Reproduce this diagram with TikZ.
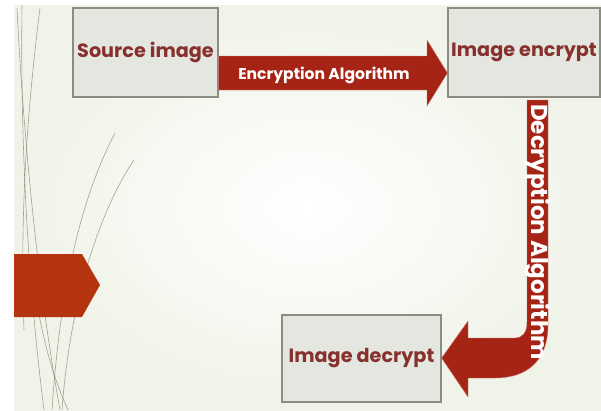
\documentclass[tikz,border=0pt]{standalone}
\usepackage{fontspec}
\setmainfont{Poppins}
\usetikzlibrary{positioning}
\definecolor{slidebg}{RGB}{240,243,232}
\definecolor{boxfill}{RGB}{228,231,223}
\definecolor{boxline}{RGB}{140,140,128}
\definecolor{arrowred}{RGB}{166,36,22}
\definecolor{hexred}{RGB}{180,52,14}
\definecolor{labelred}{RGB}{135,48,46}
\definecolor{stemgrey}{RGB}{128,130,110}
\begin{document}
\begin{tikzpicture}[
  x=1pt, y=-1pt,
  imgbox/.style = {draw=boxline, line width=1.2pt, fill=boxfill,
    text=labelred, inner sep=0pt,
    font=\bfseries\fontsize{19.2}{19.2}\selectfont},
  flowlabel/.style = {text=white, inner sep=0pt,
    font=\bfseries\fontsize{15.6}{15.6}\selectfont},
  stem/.style = {draw=stemgrey, line width=0.6pt, opacity=0.7},
  blockarrow/.style = {fill=arrowred, draw=arrowred!60!white, line width=0.4pt}]
  \useasboundingbox (0,0) rectangle (601,410);
  \fill[white] (0,0) rectangle (601,410);
  \shade[inner color=white, outer color=slidebg] (14,5) rectangle (601,410);
  \draw[stem] (17,8) .. controls (24,150) and (40,300) .. (60,410);
  \draw[stem] (22,5) .. controls (20,160) and (30,300) .. (44,410);
  \draw[stem] (40,8) .. controls (26,120) and (20,220) .. (24,330);
  \draw[stem] (134,160) .. controls (100,210) and (70,300) .. (62,410);
  \draw[stem] (115,133) .. controls (80,200) and (60,290) .. (52,410);
  \draw[stem] (30,260) .. controls (40,330) and (50,370) .. (68,410);
  \fill[hexred] (14,254) -- (82,254) -- (100,285) -- (82,317) -- (14,317) -- cycle;
  \node[imgbox, minimum width=145, minimum height=89] (src) at (145.5,52.5) {Source image};
  \node[imgbox, minimum width=152, minimum height=89] (enc) at (524,52.5) {Image encrypt};
  \node[imgbox, minimum width=159, minimum height=87] (dec) at (361.5,358.5) {Image decrypt};
  \filldraw[blockarrow] (src.east |- 0,56) -- (427,56) -- (427,40)
    -- (enc.west |- 0,73) -- (427,106) -- (427,90) -- (src.east |- 0,90) -- cycle;
  \filldraw[blockarrow] (527,100) -- (527,322) .. controls (527,333) and (522,338) .. (515,338)
    -- (468,338) -- (468,321) -- (dec.east |- 0,358) -- (468,397) -- (468,378) -- (495,378)
    .. controls (528,378) and (548,360) .. (548,325) -- (548,100) -- cycle;
  \node[flowlabel] (enclabel) at (324,75) {Encryption Algorithm};
  \node[flowlabel, rotate=-90, font=\bfseries\fontsize{23}{23}\selectfont] (declabel) at (537.5,232) {Decryption Algorithm};
\end{tikzpicture}
\end{document}
